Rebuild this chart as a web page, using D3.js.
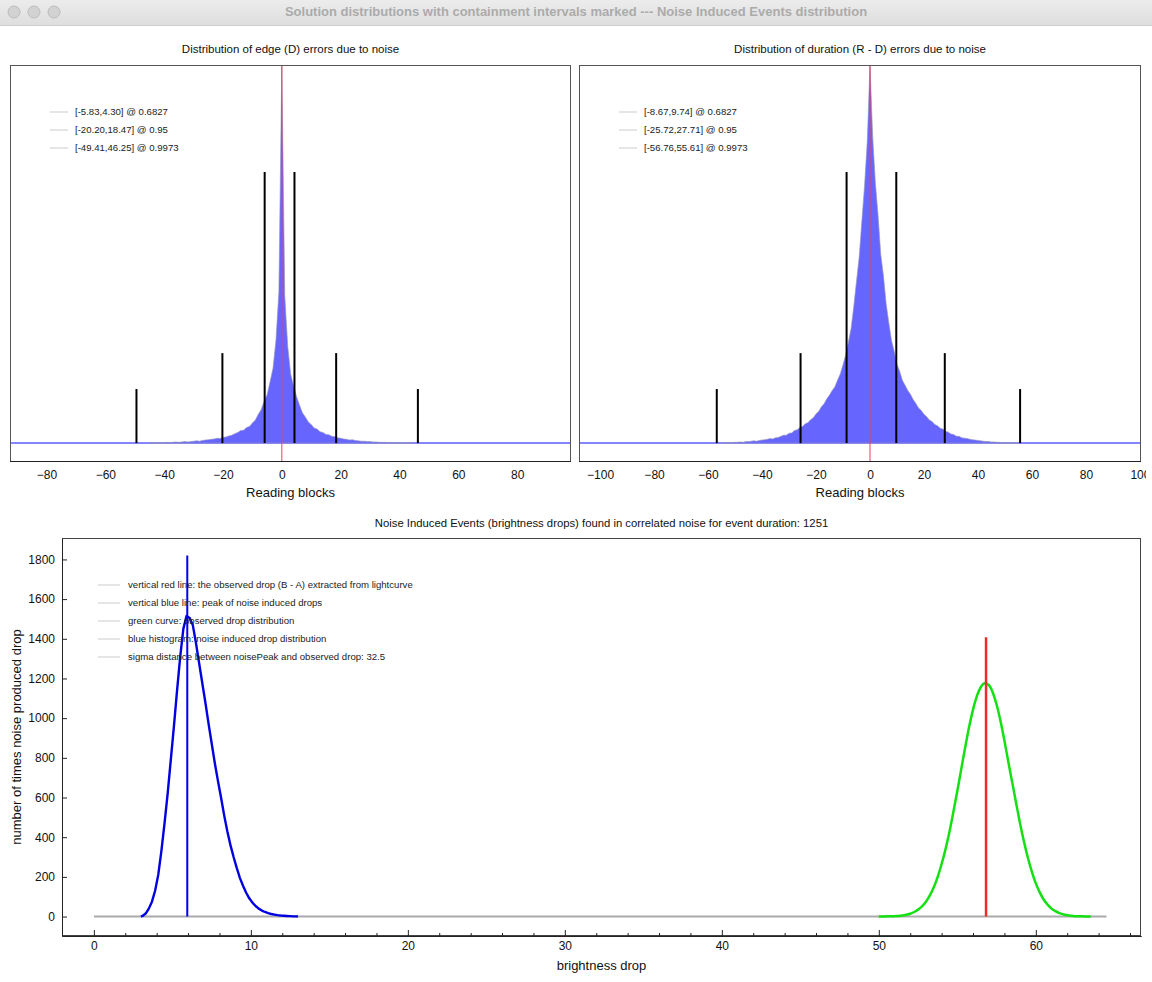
<!DOCTYPE html>
<html>
<head>
<meta charset="utf-8">
<script src="https://cdn.jsdelivr.net/npm/d3@7"></script>
<style>
  body { margin: 0; background: #fff; }
  svg { display: block; font-family: "Liberation Sans", Arial, sans-serif; }
</style>
</head>
<body>
<div id="chart"></div>
<script>
// ---- data ----

// edge (D) error histogram, 1 block bins, first bin centred at -45 (peak scaled to 1000)
var edgeStart = -45;
var edgeCounts = [0, 0, 1, 1, 1, 1, 2, 1, 2, 3, 2, 3, 4, 3, 4, 5, 6, 5, 7, 8, 9, 10, 11, 13, 12, 15, 16, 19, 21, 25,
  28, 33, 34, 41, 44, 53, 61, 76, 89, 111, 128, 162, 198, 272, 400, 1000,
  390, 257, 183, 151, 123, 101, 80, 69, 56, 49, 40, 37, 30, 28, 23, 22, 18, 17, 14, 13, 11, 10, 8, 9,
  7, 6, 5, 5, 4, 4, 3, 3, 2, 2, 2, 1, 1, 1, 1, 0, 0, 0, 0, 0, 0];

// duration (R - D) error histogram, first bin centred at -55
var durStart = -55;
var durCounts = [0, 0, 1, 1, 1, 2, 2, 3, 2, 4, 4, 5, 6, 5, 7, 8, 9, 10, 12, 11, 14, 15, 18, 21, 21, 26, 27, 33, 35, 41,
  44, 51, 54, 62, 67, 77, 84, 96, 104, 117, 127, 139, 149, 167, 183, 207, 233, 267, 303, 362, 428, 492, 588, 682, 800, 1000,
  810, 688, 602, 498, 442, 368, 317, 270, 242, 208, 190, 166, 153, 139, 129, 115, 105, 93, 86, 76, 70, 61, 57, 49,
  46, 39, 37, 31, 29, 24, 23, 18, 18, 14, 13, 12, 10, 9, 8, 7, 6, 5, 4, 4, 3, 3, 2, 2, 1, 1, 1, 0, 0, 0, 0];

// containment intervals and the height of their marker lines
var edgeIntervals = [[-5.83, 4.30], [-20.20, 18.47], [-49.41, 46.25]];
var durIntervals = [[-8.67, 9.74], [-25.72, 27.71], [-56.76, 55.61]];
var intervalHeights = [717, 238, 143];
var edgeLegend = ["[-5.83,4.30] @ 0.6827", "[-20.20,18.47] @ 0.95", "[-49.41,46.25] @ 0.9973"];
var durLegend = ["[-8.67,9.74] @ 0.6827", "[-25.72,27.71] @ 0.95", "[-56.76,55.61] @ 0.9973"];
var edgeTicks = [-80, -60, -40, -20, 0, 20, 40, 60, 80];
var durTicks = [-100, -80, -60, -40, -20, 0, 20, 40, 60, 80, 100];

// noise induced drops histogram (0.2 wide bins starting at 3.0)
var blueStart = 3.0;
var blueWidth = 0.2;
var blueCounts = [3, 15, 40, 75, 130, 210, 330, 470, 620, 790, 960, 1140, 1310, 1450, 1515, 1505, 1470, 1380, 1280, 1180,
  1080, 975, 875, 775, 685, 600, 510, 430, 360, 300, 245, 195, 155, 120, 92, 70, 53, 40, 30, 23,
  17, 13, 10, 7, 5, 4, 3, 2, 1, 1];

// observed drop distribution (sampled every 0.25 from 50.0)
var greenStart = 50.0;
var greenStep = 0.25;
var greenValues = [0, 0, 1, 1, 2, 3, 5, 9, 14, 23, 35, 51, 75, 107, 148, 200, 265, 340, 428, 528,
  633, 743, 852, 955, 1043, 1112, 1157, 1176, 1167, 1131, 1069, 986, 887, 779, 675, 570, 468, 376, 295, 225,
  167, 122, 86, 60, 40, 27, 17, 11, 7, 4, 2, 1, 1, 0, 0];

var noisePeak = 5.95, noisePeakTop = 1820;
var observedDrop = 56.83, observedTop = 1408;
var zeroLineEnd = 64.5;
var dropTicks = [0, 10, 20, 30, 40, 50, 60];
var countTicks = [0, 200, 400, 600, 800, 1000, 1200, 1400, 1600, 1800];
var dropLegend = [
  "vertical red line: the observed drop (B - A) extracted from lightcurve",
  "vertical blue line: peak of noise induced drops",
  "green curve: observed drop distribution",
  "blue histogram: noise induced drop distribution",
  "sigma distance between noisePeak and observed drop: 32.5"
];

// ---- page ----
var width = 1152;
var height = 982;

var svg = d3.select("#chart")
    .append("svg")
    .attr("width", width)
    .attr("height", height);

// window title bar
var defs = svg.append("defs");
var grad = defs.append("linearGradient")
    .attr("id", "bar").attr("x1", 0).attr("x2", 0).attr("y1", 0).attr("y2", 1);
grad.append("stop").attr("offset", "0%").attr("stop-color", "#ececec");
grad.append("stop").attr("offset", "100%").attr("stop-color", "#dedede");
svg.append("rect").attr("width", width).attr("height", 25).attr("fill", "url(#bar)");
svg.append("line").attr("x1", 0).attr("x2", width).attr("y1", 25.5).attr("y2", 25.5).attr("stroke", "#cdcdcd");
[14, 34, 54].forEach(function(cx) {
  svg.append("circle").attr("cx", cx).attr("cy", 12).attr("r", 6)
      .attr("fill", "#d2d2d2").attr("stroke", "#bcbcbc");
});
svg.append("text")
    .attr("x", 576).attr("y", 13)
    .attr("text-anchor", "middle").attr("dominant-baseline", "middle")
    .attr("font-size", 13).attr("font-weight", "bold").attr("fill", "#ababab")
    .text("Solution distributions with containment intervals marked --- Noise Induced Events distribution");

defs.append("clipPath").attr("id", "win")
    .append("rect").attr("x", 0).attr("y", 0).attr("width", 1146).attr("height", height);

// one of the two error distribution panels
function errorPanel(opt) {
  var top = 65, bottom = 462;
  var x = d3.scaleLinear().domain(opt.xDomain).range([opt.left, opt.right]);
  var y = d3.scaleLinear().domain([-50, 1000]).range([bottom, top]);
  var g = svg.append("g");

  // title
  g.append("text")
      .attr("x", (opt.left + opt.right) / 2).attr("y", 50)
      .attr("text-anchor", "middle").attr("dominant-baseline", "middle")
      .attr("font-size", 11.5).attr("fill", "#111")
      .text(opt.title);

  // zero counts line across whole range
  g.append("line")
      .attr("x1", opt.left).attr("x2", opt.right)
      .attr("y1", y(0)).attr("y2", y(0))
      .attr("stroke", "#5c5cff").attr("stroke-width", 1.5);

  // histogram, joined through the bin centres
  g.append("path")
      .datum(opt.counts)
      .attr("fill", "#6666ff")
      .attr("stroke", "rgba(150,150,185,0.8)")
      .attr("stroke-width", 0.8)
      .attr("d", d3.area()
          .x(function(d, i) { return x(opt.start + i); })
          .y0(y(0))
          .y1(function(d) { return y(d); }));

  // containment interval markers
  opt.intervals.forEach(function(iv, k) {
    g.selectAll(null)
        .data(iv)
        .enter()
        .append("line")
        .attr("x1", function(v) { return x(v); })
        .attr("x2", function(v) { return x(v); })
        .attr("y1", y(0))
        .attr("y2", y(intervalHeights[k]))
        .attr("stroke", "#000")
        .attr("stroke-width", 2);
  });

  // red zero line
  g.append("line")
      .attr("x1", x(0)).attr("x2", x(0))
      .attr("y1", top).attr("y2", bottom)
      .attr("stroke", "#e8405c").attr("stroke-width", 1);

  // frame
  g.append("rect")
      .attr("x", opt.left + 0.5).attr("y", top + 0.5)
      .attr("width", opt.right - opt.left - 1).attr("height", bottom - top - 1)
      .attr("fill", "none").attr("stroke", "#555");
  g.append("line")
      .attr("x1", opt.left).attr("x2", opt.right)
      .attr("y1", bottom - 0.5).attr("y2", bottom - 0.5)
      .attr("stroke", "#222");

  // axis
  var ax = g.append("g")
      .attr("transform", "translate(0," + bottom + ")")
      .attr("clip-path", "url(#win)")
      .call(d3.axisBottom(x).tickValues(opt.ticks).tickSize(0).tickPadding(8));
  ax.select(".domain").remove();
  ax.selectAll("text").attr("font-size", 12).attr("fill", "#111").attr("font-family", null);

  g.append("text")
      .attr("x", (opt.left + opt.right) / 2).attr("y", 494)
      .attr("text-anchor", "middle").attr("dominant-baseline", "middle")
      .attr("font-size", 13).attr("fill", "#111")
      .text("Reading blocks");

  // legend
  opt.legend.forEach(function(t, i) {
    var ly = 112 + i * 18;
    g.append("line")
        .attr("x1", opt.left + 40).attr("x2", opt.left + 58)
        .attr("y1", ly).attr("y2", ly)
        .attr("stroke", "#d4d4d4").attr("stroke-width", 1.2);
    g.append("text")
        .attr("x", opt.left + 65).attr("y", ly)
        .attr("dominant-baseline", "middle")
        .attr("font-size", 9.6).attr("fill", "#222")
        .text(t);
  });
}

errorPanel({
  left: 10, right: 571, xDomain: [-92.4, 98.3],
  start: edgeStart, counts: edgeCounts, intervals: edgeIntervals,
  ticks: edgeTicks, legend: edgeLegend,
  title: "Distribution of edge (D) errors due to noise"
});

errorPanel({
  left: 579, right: 1141, xDomain: [-107.8, 100.4],
  start: durStart, counts: durCounts, intervals: durIntervals,
  ticks: durTicks, legend: durLegend,
  title: "Distribution of duration (R - D) errors due to noise"
});

// ---- noise induced events panel ----
var bLeft = 62, bRight = 1141, bTop = 538, bBottom = 936;
var x = d3.scaleLinear().domain([-2.03, 66.7]).range([bLeft, bRight]);
var y = d3.scaleLinear().domain([-98, 1908]).range([bBottom, bTop]);
var g = svg.append("g");

g.append("text")
    .attr("x", (bLeft + bRight) / 2).attr("y", 524)
    .attr("text-anchor", "middle").attr("dominant-baseline", "middle")
    .attr("font-size", 11.3).attr("fill", "#111")
    .text("Noise Induced Events (brightness drops) found in correlated noise for event duration: 1251");

// zero line
g.append("line")
    .attr("x1", x(0)).attr("x2", x(zeroLineEnd))
    .attr("y1", y(0)).attr("y2", y(0))
    .attr("stroke", "#aaaaaa").attr("stroke-width", 2);

// blue histogram, traced through bin centres
var blueLine = [[blueStart, 0]];
blueCounts.forEach(function(c, i) {
  blueLine.push([blueStart + (i + 0.5) * blueWidth, c]);
});
blueLine.push([blueStart + blueCounts.length * blueWidth, 0]);
g.append("path")
    .datum(blueLine)
    .attr("fill", "none")
    .attr("stroke", "#0000e0")
    .attr("stroke-width", 2.4)
    .attr("stroke-linejoin", "round")
    .attr("d", d3.line().x(function(d) { return x(d[0]); }).y(function(d) { return y(d[1]); }));

// green observed-drop curve
g.append("path")
    .datum(greenValues)
    .attr("fill", "none")
    .attr("stroke", "#14e014")
    .attr("stroke-width", 2.5)
    .attr("d", d3.line()
        .curve(d3.curveMonotoneX)
        .x(function(d, i) { return x(greenStart + i * greenStep); })
        .y(function(d) { return y(d); }));

// peak markers
g.append("line")
    .attr("x1", x(noisePeak)).attr("x2", x(noisePeak))
    .attr("y1", y(0)).attr("y2", y(noisePeakTop))
    .attr("stroke", "#0000ee").attr("stroke-width", 2);
g.append("line")
    .attr("x1", x(observedDrop)).attr("x2", x(observedDrop))
    .attr("y1", y(0)).attr("y2", y(observedTop))
    .attr("stroke", "#ee2a2a").attr("stroke-width", 2.5);

// frame
g.append("rect")
    .attr("x", bLeft + 0.5).attr("y", bTop + 0.5)
    .attr("width", bRight - bLeft - 1).attr("height", bBottom - bTop - 1)
    .attr("fill", "none").attr("stroke", "#444");

// axes
var xAx = g.append("g")
    .attr("transform", "translate(0," + bBottom + ")")
    .call(d3.axisBottom(x).tickValues(dropTicks).tickSizeInner(-6).tickSizeOuter(0).tickPadding(5));
var xMinor = g.append("g")
    .attr("transform", "translate(0," + bBottom + ")")
    .call(d3.axisBottom(x).tickValues(d3.range(0, 67, 2).filter(function(v) { return v % 10 !== 0; }))
        .tickSizeInner(-3).tickSizeOuter(0).tickFormat(""));
var yAx = g.append("g")
    .attr("transform", "translate(" + bLeft + ",0)")
    .call(d3.axisLeft(y).tickValues(countTicks).tickFormat(d3.format("d"))
        .tickSizeInner(-5).tickSizeOuter(0).tickPadding(7));
[xAx, xMinor, yAx].forEach(function(a) {
  a.select(".domain").attr("stroke", "#222");
  a.selectAll("line").attr("stroke", "#222");
  a.selectAll("text").attr("font-size", 12).attr("fill", "#111").attr("font-family", null);
});

g.append("text")
    .attr("x", (bLeft + bRight) / 2).attr("y", 967)
    .attr("text-anchor", "middle").attr("dominant-baseline", "middle")
    .attr("font-size", 13).attr("fill", "#111")
    .text("brightness drop");
g.append("text")
    .attr("transform", "translate(18," + (bTop + bBottom) / 2 + ") rotate(-90)")
    .attr("text-anchor", "middle").attr("dominant-baseline", "middle")
    .attr("font-size", 13).attr("fill", "#111")
    .text("number of times noise produced drop");

// legend
dropLegend.forEach(function(t, i) {
  var ly = 585 + i * 18;
  g.append("line")
      .attr("x1", 98).attr("x2", 120)
      .attr("y1", ly).attr("y2", ly)
      .attr("stroke", "#d4d4d4").attr("stroke-width", 1.2);
  g.append("text")
      .attr("x", 128).attr("y", ly)
      .attr("dominant-baseline", "middle")
      .attr("font-size", 9.6).attr("fill", "#222")
      .text(t);
});
</script>
</body>
</html>
